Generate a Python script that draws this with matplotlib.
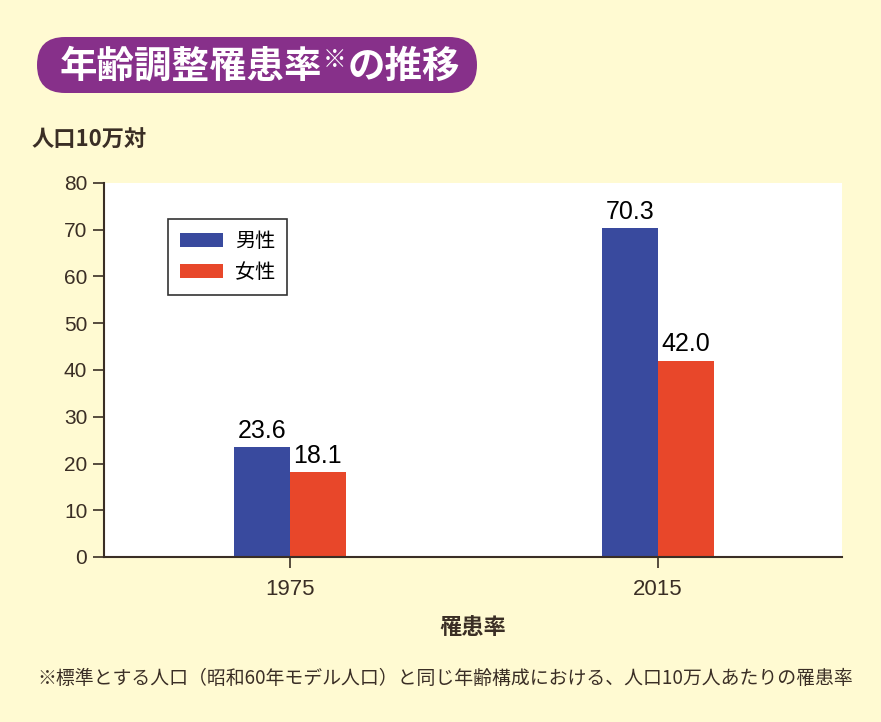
import matplotlib
matplotlib.use("Agg")
import matplotlib.pyplot as plt
from matplotlib.patches import FancyBboxPatch
import numpy as np

plt.rcParams['font.family'] = ['Noto Sans CJK JP', 'DejaVu Sans']

# data
years = ["1975", "2015"]
series_names = ["男性", "女性"]
male = [23.6, 70.3]
female = [18.1, 42.0]
y_ticks = [0, 10, 20, 30, 40, 50, 60, 70, 80]

title_main = "年齢調整罹患率"
title_mark = "※"
title_tail = "の推移"
y_unit = "人口10万対"
x_title = "罹患率"
footnote = "※標準とする人口（昭和60年モデル人口）と同じ年齢構成における、人口10万人あたりの罹患率"

BG = "#FFFAD2"
PURPLE = "#87308A"
BLUE = "#394A9E"
RED = "#E8472A"
DARK = "#3A2E25"
NUM_FONT = ["Liberation Sans", "DejaVu Sans"]

W, H = 881, 722
fig = plt.figure(figsize=(W / 100, H / 100), dpi=100, facecolor=BG)

# axes box in pixels: left 104, right 842, top 183, bottom 557
ax = fig.add_axes([104 / W, (H - 557) / H, 738 / W, 374 / H])
ax.set_facecolor("white")

x = np.arange(len(years))
bw = 0.152
b1 = ax.bar(x - bw / 2, male, bw, color=BLUE, label=series_names[0], zorder=2)
b2 = ax.bar(x + bw / 2, female, bw, color=RED, label=series_names[1], zorder=2)

for bars, vals in ((b1, male), (b2, female)):
    for rect, v in zip(bars, vals):
        ax.annotate(f"{v:.1f}", (rect.get_x() + rect.get_width() / 2, v),
                    xytext=(0, 3), textcoords="offset points",
                    ha="center", va="bottom", fontsize=18,
                    family=NUM_FONT, color="black")

ax.set_xlim(-0.505, 1.5)
ax.set_ylim(0, 80)
ax.set_yticks(y_ticks)
ax.set_xticks(x)
ax.set_xticklabels(years)
ax.tick_params(axis="y", length=8, width=1.2, color=DARK, pad=4, labelsize=15)
ax.tick_params(axis="x", length=8, width=1.2, color=DARK, pad=8, labelsize=16)
for lab in ax.get_xticklabels() + ax.get_yticklabels():
    lab.set_family(NUM_FONT)
    lab.set_color(DARK)
for s in ("top", "right"):
    ax.spines[s].set_visible(False)
for s in ("left", "bottom"):
    ax.spines[s].set_color(DARK)
    ax.spines[s].set_linewidth(1.5)

leg = ax.legend(loc="upper left", bbox_to_anchor=(0.087, 0.904), fontsize=14.5,
                frameon=True, fancybox=False, edgecolor="black",
                handlelength=2.1, handleheight=0.75, handletextpad=0.6,
                borderpad=0.6, labelspacing=0.5, borderaxespad=0)
leg.get_frame().set_linewidth(1.2)

# title pill
pill = FancyBboxPatch((0.37, (H - 93) / 100), 4.40, 0.56,
                      boxstyle="round,pad=0,rounding_size=0.28",
                      transform=fig.dpi_scale_trans, fc=PURPLE, ec="none")
fig.patches.append(pill)

renderer = fig.canvas.get_renderer()
ty = 1 - 66 / H
t1 = fig.text(60 / W, ty, title_main, color="white", fontsize=27,
              fontweight="bold", va="center", ha="left")
e1 = t1.get_window_extent(renderer)
t2 = fig.text(e1.x1 / W, ty + 6 / H, title_mark, color="white",
              fontsize=17, fontweight="bold", va="center", ha="left")
e2 = t2.get_window_extent(renderer)
fig.text(e2.x1 / W + 1 / W, ty, title_tail, color="white", fontsize=27,
         fontweight="bold", va="center", ha="left")

fig.text(32 / W, 1 - 140 / H, y_unit, fontsize=16, fontweight="bold",
         color=DARK, va="center", ha="left")
fig.text(473 / W, 1 - 628 / H, x_title, fontsize=16, fontweight="bold",
         color=DARK, va="center", ha="center")
fig.text(37 / W, 1 - 678 / H, footnote, fontsize=13.6, color=DARK,
         va="center", ha="left")

fig.savefig("out.png", dpi=100, facecolor=BG)
